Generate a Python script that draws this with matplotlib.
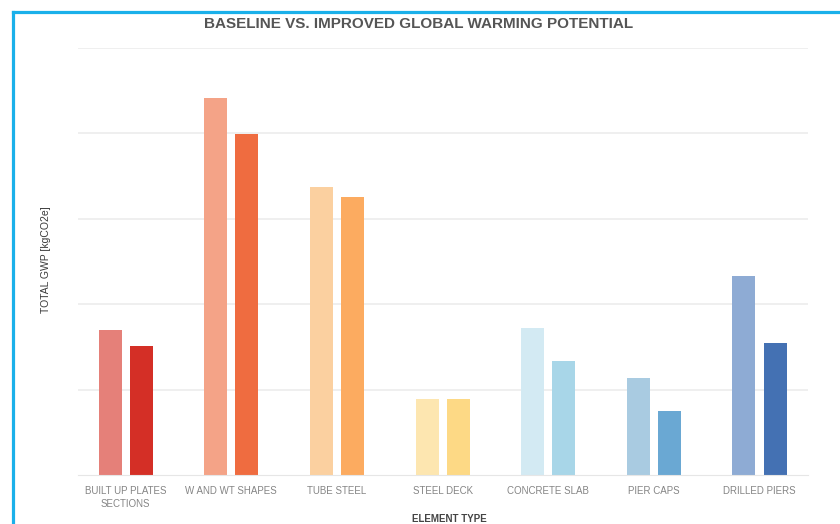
import numpy as np
import matplotlib.pyplot as plt
from matplotlib.lines import Line2D

# Element types along the x axis
categories = ['BUILT UP PLATES\nSECTIONS', 'W AND WT SHAPES', 'TUBE STEEL',
              'STEEL DECK', 'CONCRETE SLAB', 'PIER CAPS', 'DRILLED PIERS']

# Total GWP per element (relative units)
baseline = [170, 441, 337, 89, 172, 113, 233]
improved = [151, 399, 326, 89, 134, 75, 154]

# Colours per group: light = baseline, dark = improved
baseline_colors = ['#e58079', '#f4a387', '#fbd0a0', '#fde6b0', '#d3eaf3', '#a9cbe1', '#8eabd4']
improved_colors = ['#d42f26', '#ef6c40', '#fcab60', '#fdd985', '#a8d6e8', '#6aa8d3', '#4471b3']

plt.rcParams['font.family'] = ['Liberation Sans', 'DejaVu Sans']

fig = plt.figure(figsize=(8.4, 5.24), dpi=100)
ax = fig.add_axes([0.093, 0.0935, 0.869, 0.815])

x = np.arange(len(categories))
width = 0.218
offset = 0.147
ax.bar(x - offset, baseline, width, color=baseline_colors, zorder=2)
ax.bar(x + offset, improved, width, color=improved_colors, zorder=2)

ax.set_xlim(-0.45, 6.46)
ax.set_ylim(0, 500)
ax.set_yticks([100, 200, 300, 400, 500])
ax.yaxis.grid(True, color='#ececec', linewidth=1.2, zorder=0)
ax.tick_params(axis='y', left=False, labelleft=False)
ax.set_xticks(x)
ax.set_xticklabels(categories, fontsize=7, color='#858585', linespacing=1.4)
ax.tick_params(axis='x', length=0, pad=8)

for side in ['top', 'right', 'left']:
    ax.spines[side].set_visible(False)
ax.spines['bottom'].set_color('#e6e6e6')

ax.set_ylabel('TOTAL GWP [kgCO2e]', fontsize=7.5, color='#3a3a3a')
ax.yaxis.set_label_coords(-0.037, 0.505)

fig.text(0.535, 1 - 519 / 524, 'ELEMENT TYPE', ha='center', va='center',
         fontsize=7, fontweight='bold', color='#444444')
fig.text(0.498, 0.954, 'BASELINE VS. IMPROVED GLOBAL WARMING POTENTIAL',
         ha='center', va='center', fontsize=11, fontweight='bold', color='#555555')

# Blue frame along the top and left edges
fig.add_artist(Line2D([0.0155, 1.0], [0.978, 0.978], color='#1ab0ea', linewidth=2.3,
                      transform=fig.transFigure))
fig.add_artist(Line2D([0.0155, 0.0155], [0.0, 0.978], color='#1ab0ea', linewidth=2.3,
                      transform=fig.transFigure))

plt.savefig('out.png', dpi=100)
